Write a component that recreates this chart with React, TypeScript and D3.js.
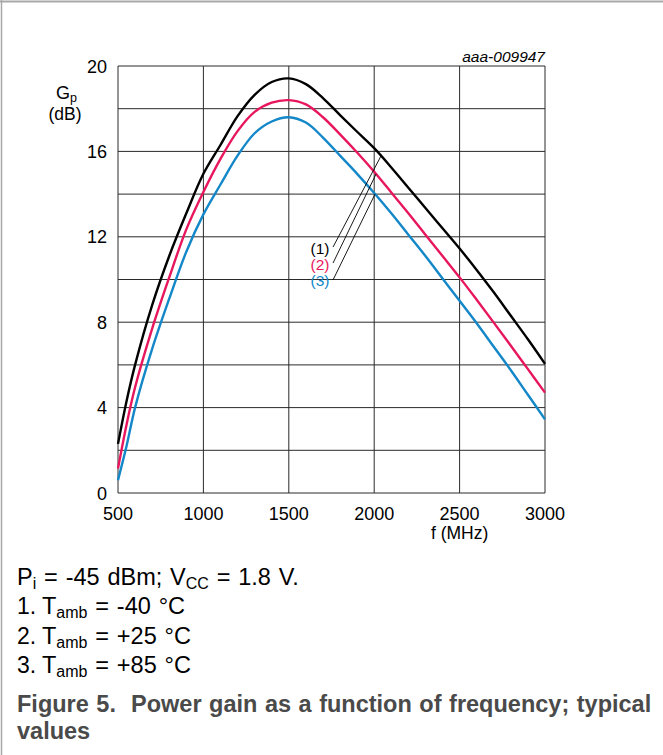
import React from "react";
import * as d3 from "d3";

const freq = [500, 550, 600, 700, 800, 900, 1000, 1100, 1200, 1300, 1400, 1500, 1600, 1700, 1800, 1900, 2000, 2100, 2200, 2300, 2400, 2500, 2600, 2700, 2800, 2900, 3000];
const gain1 = [2.3, 4.3, 6.0, 8.8, 11.1, 13.1, 14.95, 16.3, 17.65, 18.65, 19.25, 19.42, 19.15, 18.5, 17.7, 16.92, 16.15, 15.25, 14.3, 13.35, 12.4, 11.45, 10.45, 9.4, 8.3, 7.2, 6.05];
const gain2 = [1.15, 3.2, 4.95, 7.7, 10.1, 12.35, 14.1, 15.65, 16.95, 17.85, 18.28, 18.4, 18.2, 17.6, 16.8, 15.95, 15.05, 14.08, 13.1, 12.1, 11.1, 10.1, 9.05, 7.98, 6.9, 5.8, 4.7];
const gain3 = [0.6, 2.2, 4.0, 6.75, 9.1, 11.3, 13.05, 14.45, 15.8, 16.85, 17.4, 17.6, 17.35, 16.65, 15.8, 14.95, 14.05, 13.1, 12.1, 11.1, 10.05, 9.0, 7.95, 6.85, 5.75, 4.6, 3.45];

const seriesLabels = ["(1)", "(2)", "(3)"];
const seriesColors = ["#000000", "#e8175d", "#1387c8"];
const leaderEndFreq = [2040, 2011, 2005];
const leaderStart = [[1759, 11.52], [1759, 10.77], [1759, 9.98]];
const labelPos = [[1738, 11.2], [1738, 10.45], [1738, 9.7]];

const xTicks = [500, 1000, 1500, 2000, 2500, 3000];
const yTicks = [0, 4, 8, 12, 16, 20];
const yGrid = [0, 2, 4, 6, 8, 10, 12, 14, 16, 18, 20];

const notes = [
  { num: "1.", val: " = -40 °C" },
  { num: "2.", val: " = +25 °C" },
  { num: "3.", val: " = +85 °C" },
];

const FONT = "'Liberation Sans', Arial, sans-serif";

export default function App() {
  const x = d3.scaleLinear().domain([500, 3000]).range([118, 545]);
  const y = d3.scaleLinear().domain([0, 20]).range([493, 66]);
  const line = d3
    .line<number>()
    .x((_, i) => x(freq[i]))
    .y((d) => y(d))
    .curve(d3.curveCatmullRom.alpha(0.5));
  const series = [gain1, gain2, gain3];
  const interp = (s: number[], f: number) => {
    const i = d3.bisectLeft(freq, f);
    const f0 = freq[i - 1], f1 = freq[i];
    const t = (f - f0) / (f1 - f0);
    return s[i - 1] + t * (s[i] - s[i - 1]);
  };

  return (
    <svg
      width={663}
      height={755}
      style={{ position: "absolute", left: 0, top: 0, background: "#fff" }}
      fontFamily={FONT}
    >
      <rect x={0} y={0} width={663} height={755} fill="#fff" />
      <line x1={0} x2={663} y1={1.5} y2={1.5} stroke="#a8a8a8" strokeWidth={2} />
      <line x1={1.5} x2={1.5} y1={0} y2={755} stroke="#a8a8a8" strokeWidth={1.5} />

      {/* grid */}
      {yGrid.map((v) => (
        <line key={"h" + v} x1={x(500)} x2={x(3000)} y1={y(v)} y2={y(v)} stroke="#2a2a2a" strokeWidth={1} />
      ))}
      {xTicks.map((v) => (
        <line key={"v" + v} x1={x(v)} x2={x(v)} y1={y(0)} y2={y(20)} stroke="#2a2a2a" strokeWidth={1} />
      ))}

      {/* curves */}
      {series.map((s, k) => (
        <path key={"s" + k} d={line(s) || ""} fill="none" stroke={seriesColors[k]} strokeWidth={2.4} strokeLinejoin="round" />
      ))}

      {/* leaders and labels */}
      {series.map((s, k) => (
        <g key={"l" + k}>
          <line
            x1={x(leaderStart[k][0])}
            y1={y(leaderStart[k][1])}
            x2={x(leaderEndFreq[k])}
            y2={y(interp(s, leaderEndFreq[k]))}
            stroke="#000"
            strokeWidth={0.9}
          />
          <text x={x(labelPos[k][0])} y={y(labelPos[k][1])} textAnchor="end" fontSize={15.5} fill={seriesColors[k]}>
            {seriesLabels[k]}
          </text>
        </g>
      ))}

      {/* tick labels */}
      {yTicks.map((v) => (
        <text key={"yt" + v} x={107} y={y(v) + 6.5} textAnchor="end" fontSize={18} fill="#000">
          {v}
        </text>
      ))}
      {xTicks.map((v) => (
        <text key={"xt" + v} x={x(v)} y={520} textAnchor="middle" fontSize={18} fill="#000">
          {v}
        </text>
      ))}
      <text x={x(2500)} y={539} textAnchor="middle" fontSize={17.5} fill="#000">
        f (MHz)
      </text>
      <text x={56} y={99} fontSize={18} fill="#000">
        G<tspan fontSize={12.5} dy={3}>p</tspan>
      </text>
      <text x={65} y={120} textAnchor="middle" fontSize={17.5} fill="#000">
        (dB)
      </text>
      <text x={545} y={62} textAnchor="end" fontSize={15.5} fontStyle="italic" fill="#000">
        aaa-009947
      </text>

      {/* notes */}
      <text x={17} y={585} fontSize={23.5} fill="#000" wordSpacing={1.3}>
        P<tspan fontSize={16} dy={4}>i</tspan>
        <tspan dy={-4}> = -45 dBm; V</tspan>
        <tspan fontSize={16} dy={4}>CC</tspan>
        <tspan dy={-4}> = 1.8 V.</tspan>
      </text>
      {notes.map((n, i) => (
        <g key={"n" + i}>
          <text x={17} y={614 + i * 29.5} fontSize={23} fill="#000">
            {n.num}
          </text>
          <text x={42} y={614 + i * 29.5} fontSize={23.5} fill="#000" wordSpacing={1.3}>
            T<tspan fontSize={16} dy={4}>amb</tspan>
            <tspan dy={-4}>{n.val}</tspan>
          </text>
        </g>
      ))}
      <text x={17} y={712} fontSize={23.5} fontWeight="bold" fill="#4a4a4a" wordSpacing={1}>
        Figure 5.{"\u00a0\u00a0"}Power gain as a function of frequency; typical
      </text>
      <text x={17} y={739} fontSize={23.5} fontWeight="bold" fill="#4a4a4a">
        values
      </text>
    </svg>
  );
}
